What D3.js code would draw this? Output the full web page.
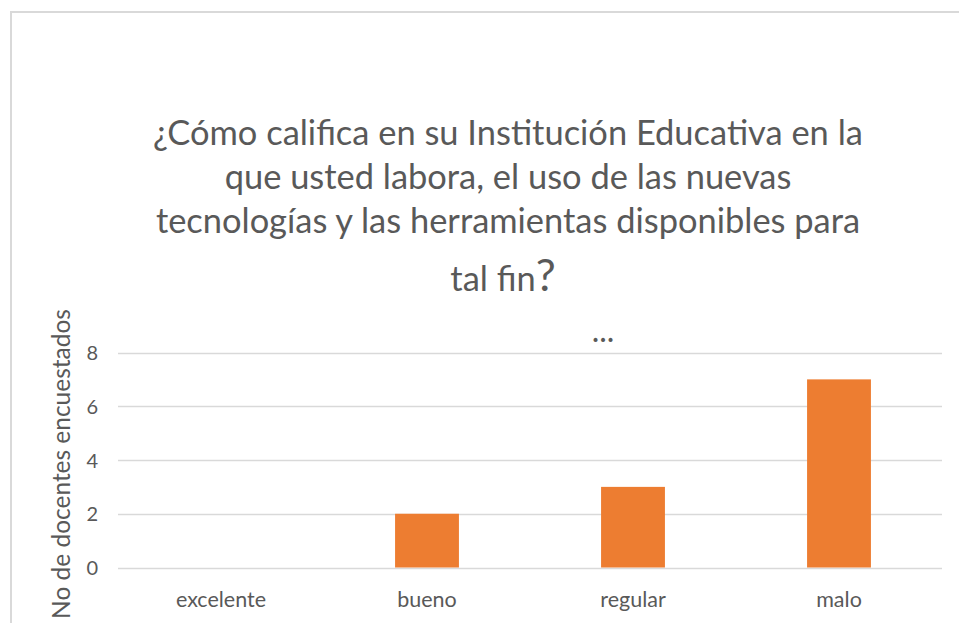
<!DOCTYPE html>
<html><head><meta charset="utf-8">
<script src="https://cdn.jsdelivr.net/npm/d3@7"></script>
<style>body{margin:0;background:#fff}svg{display:block}text{font-family:Lato,"Open Sans",sans-serif}</style>
</head><body>
<svg id="c" width="959" height="623"></svg>
<script>
const categories = ["excelente","bueno","regular","malo"];
const values = [0,2,3,7];
const yTicks = [0,2,4,6,8];
const titleLines = ["¿Cómo califica en su Institución Educativa en la","que usted labora, el uso de las nuevas","tecnologías y las herramientas disponibles para","tal fin"];
const titleEnd = "?";
const subtitle = "...";
const yTitle = "No de docentes encuestados";

const svg = d3.select("#c");
const txt = "#595959", grid = "#d9d9d9", barColor = "#ED7D31";

// frame border
svg.append("line").attr("x1",11).attr("x2",959).attr("y1",12).attr("y2",12).attr("stroke","#d9d9d9").attr("stroke-width",2);
svg.append("line").attr("x1",11).attr("x2",11).attr("y1",11).attr("y2",623).attr("stroke","#d9d9d9").attr("stroke-width",2);

const x = d3.scaleBand().domain(categories).range([118,942]).paddingInner(0.69).paddingOuter(0.345);
const y = d3.scaleLinear().domain([0,8]).range([567.5,352.5]);

// gridlines
svg.append("g").selectAll("line").data(yTicks).join("line")
  .attr("x1",118).attr("x2",942).attr("y1",d=>Math.round(y(d))+0.5).attr("y2",d=>Math.round(y(d))+0.5)
  .attr("stroke",grid).attr("stroke-width",1.3);

// y axis labels
const yAxis = d3.axisLeft(y).tickValues(yTicks).tickSize(0).tickPadding(0);
const ga = svg.append("g").attr("transform","translate(98,0)").call(yAxis);
ga.select(".domain").remove();
ga.selectAll("text").attr("fill",txt).style("font-size","20px").style("font-family","Lato,sans-serif").attr("dy","0.36em");

// bars
svg.append("g").selectAll("rect").data(values).join("rect")
  .attr("x",(d,i)=>x(categories[i])).attr("width",x.bandwidth())
  .attr("y",d=>y(d)).attr("height",d=>y(0)-y(d)).attr("fill",barColor);

// x axis labels
const xAxis = d3.axisBottom(x).tickSize(0).tickPadding(0);
const gx = svg.append("g").attr("transform","translate(0,607)").call(xAxis);
gx.select(".domain").remove();
gx.selectAll("text").attr("fill",txt).attr("dy",0).style("font-size","21.5px").style("font-family","Lato,sans-serif");

// title
function fit(t, w){ let fs=parseFloat(t.style("font-size")); const cur=t.node().getComputedTextLength(); t.style("font-size",(fs*w/cur)+"px"); return fs*w/cur; }
const base=[145,189,233,291];
const t0 = svg.append("text").attr("x",508).attr("y",base[0]).attr("text-anchor","middle").attr("fill",txt).style("font-size","28px").text(titleLines[0]);
const fs = fit(t0,710);
titleLines.slice(1).forEach((l,i)=>{
  const t = svg.append("text").attr("x",i===2?503:508).attr("y",base[i+1]).attr("text-anchor","middle").attr("fill",txt).style("font-size",fs+"px");
  t.append("tspan").text(l);
  if(i===2){ t.append("tspan").style("font-size",(fs*1.3)+"px").text(titleEnd); }
});
svg.append("text").attr("x",603).attr("y",342).attr("text-anchor","middle").attr("fill",txt).style("font-size","32px").text(subtitle);

// y title
const yt = svg.append("text").attr("transform","translate(70,464) rotate(-90)").attr("text-anchor","middle").attr("fill",txt).style("font-size","20px").text(yTitle);
fit(yt,310);
</script>
</body></html>
